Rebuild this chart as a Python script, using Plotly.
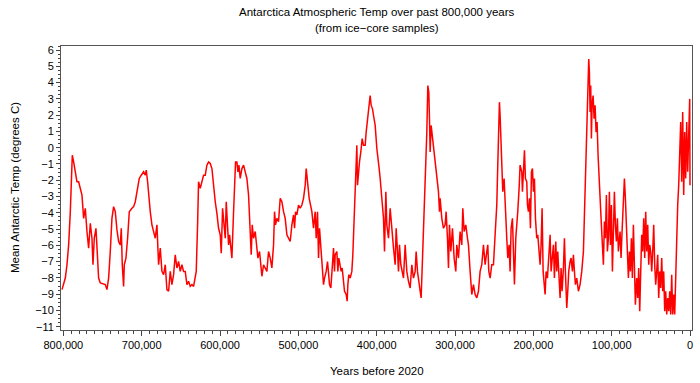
import plotly.graph_objects as go

years = [
801750, 799630, 797500, 795370, 793250, 791120, 789850, 788570, 786870, 784740,
782620, 780490, 778360, 776240, 774110, 771980, 769860, 767730, 765600, 763480,
762200, 760500, 758370, 757100, 754970, 752840, 748590, 746460, 744340, 742210,
740090, 737960, 735830, 733710, 731580, 729450, 727330, 726050, 724780, 723070,
722220, 720100, 717970, 715840, 712440, 710310, 708190, 705210, 703090, 700530,
697560, 695430, 694150, 692450, 690750, 689050, 686920, 684800, 682670, 680540,
679270, 678420, 676290, 674170, 672040, 669910, 667790, 665660, 663530, 661410,
659280, 657150, 655030, 652900, 650770, 648650, 646520, 644390, 642270, 640140,
638010, 635890, 633760, 631630, 630360, 628660, 627380, 625260, 623130, 621000,
618880, 616750, 614620, 612500, 610350, 608230, 606100, 603970, 601850, 599720,
598440, 596740, 595470, 593340, 592070, 590360, 589090, 587810, 586110, 584840,
582710, 581430, 580160, 578460, 577180, 575900, 574200, 572080, 569950, 567820,
565700, 563570, 561440, 560170, 558890, 557190, 555070, 552940, 551660, 549540,
547840, 546560, 544430, 542310, 540180, 538050, 535930, 533800, 531670, 530400,
529120, 527420, 525290, 523170, 521040, 518910, 516790, 514660, 512530, 510410,
508280, 506150, 504880, 503600, 501900, 499780, 497650, 495520, 493400, 491270,
490000, 488300, 486170, 482770, 480640, 478510, 477240, 475540, 474260, 472980,
470860, 469580, 467880, 466600, 464480, 462780, 461500, 460220, 458520, 457250,
455120, 453850, 452990, 450870, 449590, 448320, 446620, 445340, 444060, 442360,
441090, 438960, 437680, 436830, 435560, 433860, 431730, 430460, 428750, 427050,
425350, 424500, 423220, 421950, 420250, 418550, 416840, 414720, 413440, 411740,
410040, 408340, 407050, 405340, 404070, 401940, 399820, 398540, 396840, 395560,
393440, 391310, 390030, 388330, 387060, 384930, 382800, 380680, 378550, 376420,
375150, 373450, 372170, 370900, 369190, 367490, 365790, 363660, 361540, 359410,
357290, 355160, 353030, 350910, 349630, 347930, 346230, 344520, 343250, 341970,
340270, 339000, 337720, 336020, 334740, 333470, 332620, 331770, 330490, 328790,
327520, 325390, 323260, 321140, 319860, 319010, 316880, 314760, 312630, 311360,
309650, 308380, 307100, 305400, 303270, 301150, 299020, 297740, 295620, 293490,
291370, 290090, 288390, 286260, 284130, 282860, 280730, 278610, 276480, 274350,
272230, 270100, 267970, 265850, 263720, 261590, 259470, 258190, 256920, 255220,
253090, 250960, 248840, 246710, 245440, 244160, 243310, 242460, 240330, 239060,
237350, 235650, 233950, 232670, 230970, 229700, 228420, 226720, 225440, 224170,
222470, 221190, 219920, 218220, 216940, 214800, 213940, 212670, 211390, 210120,
208420, 207560, 206290, 205010, 203740, 202460, 201180, 199910, 198630, 197360,
195660, 194380, 192680, 191400, 190130, 188850, 187570, 186300, 185020, 183750,
182050, 179920, 178640, 177370, 175670, 174390, 173120, 171420, 170140, 168860,
167160, 165890, 164610, 163340, 161630, 160360, 159080, 157380, 156110, 154830,
153130, 151850, 150150, 148870, 147600, 146320, 144620, 142490, 140370, 138240,
136110, 134840, 133560, 132290, 130580, 129310, 128460, 127610, 126760, 125910,
125060, 123780, 122500, 121230, 119950, 118680, 117400, 116130, 114850, 113570,
112300, 110600, 109320, 108040, 106770, 105490, 104220, 102940, 101670, 100390,
99110, 97840, 96560, 95290, 94010, 92740, 91460, 89330, 88060, 86780,
85080, 83800, 82530, 81250, 79970, 78700, 77420, 76150, 74870, 73600,
72320, 71050, 69770, 68070, 66790, 65520, 64240, 62960, 61690, 60410,
59140, 57860, 56590, 55310, 54030, 52760, 51480, 50210, 48930, 47650,
46380, 45100, 43830, 42550, 41280, 40000, 38720, 37450, 36170, 34900,
33620, 32340, 31070, 29790, 28520, 27240, 25960, 24690, 23410, 22140,
20860, 19580, 18310, 17030, 15760, 14480, 13200, 11930, 10650, 9380,
8100, 6820, 5550, 4270, 3000, 1720, 440, 50,
]

temps = [
-8.72, -8.41, -8.01, -7.19, -5.97, -3.93, -2.50, -0.46, -0.87, -1.48,
-2.09, -2.09, -2.50, -2.91, -4.34, -3.72, -5.15, -6.17, -4.64, -5.56,
-7.19, -5.56, -4.95, -6.38, -8.01, -8.31, -8.41, -8.41, -8.72, -8.01,
-6.38, -4.34, -3.62, -3.93, -5.05, -5.76, -5.97, -4.95, -7.19, -8.52,
-7.19, -6.78, -5.56, -3.93, -3.72, -3.62, -3.32, -2.60, -1.89, -1.69,
-1.48, -1.69, -1.38, -2.09, -3.11, -3.93, -4.74, -5.15, -5.56, -4.74,
-5.97, -7.19, -6.17, -7.60, -7.80, -7.19, -8.72, -8.82, -7.60, -8.41,
-7.80, -6.58, -7.39, -6.99, -7.60, -7.19, -7.60, -7.60, -8.41, -8.21,
-8.52, -8.41, -8.52, -8.01, -7.60, -4.74, -2.09, -2.50, -2.09, -1.69,
-1.69, -1.07, -0.87, -0.97, -1.28, -2.50, -3.32, -4.03, -4.95, -5.35,
-6.48, -3.72, -4.34, -5.56, -3.32, -5.15, -5.97, -5.35, -6.38, -6.78,
-3.93, -1.89, -0.87, -0.87, -1.48, -1.07, -1.89, -1.28, -1.07, -1.48,
-1.89, -2.91, -4.74, -6.58, -4.74, -5.56, -5.15, -5.97, -6.78, -6.38,
-7.19, -7.90, -7.19, -7.39, -7.60, -6.38, -6.78, -7.39, -5.97, -3.93,
-4.74, -4.34, -4.54, -3.11, -3.32, -3.93, -4.34, -5.35, -5.56, -5.76,
-4.74, -4.13, -4.95, -3.93, -4.13, -3.52, -3.72, -3.52, -3.11, -2.30,
-1.28, -2.30, -3.11, -3.93, -4.95, -3.93, -5.56, -3.93, -6.78, -4.95,
-6.38, -7.60, -8.41, -8.01, -7.60, -6.99, -7.60, -8.41, -8.62, -7.60,
-6.17, -7.60, -6.58, -6.38, -7.60, -6.78, -7.19, -7.60, -7.39, -8.01,
-8.82, -9.02, -9.43, -8.41, -7.80, -8.01, -7.60, -6.58, -3.93, -1.89,
0.15, -2.30, -1.48, -0.87, -0.26, 0.56, 0.15, 0.15, 0.96, 1.78,
2.19, 3.21, 2.60, 2.39, 1.98, 1.37, -0.05, -0.46, -1.28, -1.89,
-2.91, -4.34, -6.38, -2.70, -4.74, -5.56, -3.72, -5.15, -6.17, -7.19,
-4.95, -6.38, -7.60, -5.97, -7.19, -7.60, -8.01, -5.97, -7.60, -8.21,
-8.62, -7.19, -8.01, -7.60, -6.38, -7.60, -8.41, -8.82, -9.23, -7.60,
-5.56, -3.52, -1.48, 0.96, 3.82, 3.41, 1.78, -0.26, 1.37, 0.56,
-0.05, -1.07, -1.69, -2.70, -3.93, -3.11, -4.34, -4.95, -4.74, -3.93,
-5.56, -7.39, -4.74, -6.38, -4.95, -6.78, -7.60, -5.97, -6.78, -5.15,
-5.97, -3.72, -5.15, -4.74, -5.56, -5.97, -7.60, -9.02, -8.41, -9.02,
-9.23, -8.82, -7.60, -7.19, -5.97, -7.19, -6.38, -5.97, -7.60, -8.01,
-7.19, -7.19, -5.35, -3.52, -1.07, 1.37, 2.80, 1.98, -1.48, -2.70,
-1.89, -4.34, -5.56, -6.78, -5.97, -7.60, -4.95, -4.34, -6.58, -8.41,
-5.56, -4.34, -3.93, -2.50, -1.07, -1.48, -2.70, -1.48, -0.16, -1.89,
-2.09, -3.52, -3.93, -3.11, -4.95, -1.48, -1.28, -2.70, -1.89, -4.34,
-5.56, -5.35, -6.58, -7.19, -5.97, -3.72, -7.60, -8.41, -9.02, -7.60,
-8.01, -6.38, -5.35, -7.60, -6.38, -5.97, -8.01, -5.76, -7.60, -6.38,
-8.01, -9.23, -7.39, -8.82, -7.39, -5.56, -7.60, -9.84, -8.82, -7.60,
-6.99, -6.78, -7.60, -6.58, -7.60, -8.41, -8.01, -8.82, -8.41, -7.60,
-6.38, -4.34, -1.89, 0.56, 3.00, 5.45, 4.63, 2.19, 3.82, 0.56,
2.60, 3.21, 1.78, 2.60, 0.96, 1.58, -0.46, -2.09, -2.91, -4.34,
-5.56, -7.19, -4.54, -5.56, -2.91, -6.38, -5.56, -2.70, -5.97, -3.52,
-7.60, -4.13, -2.70, -4.74, -5.76, -4.34, -6.38, -5.15, -6.78, -5.15,
-2.70, -1.89, -3.11, -4.74, -6.38, -8.01, -6.38, -7.60, -5.56, -8.01,
-4.74, -6.58, -9.64, -8.01, -9.23, -7.39, -10.04, -7.60, -5.35, -6.38,
-4.34, -6.78, -3.93, -6.38, -4.74, -7.19, -5.97, -6.38, -7.60, -6.38,
-4.74, -7.19, -8.41, -7.60, -6.58, -9.23, -7.60, -8.62, -6.78, -8.82,
-7.60, -10.04, -8.82, -10.25, -9.23, -10.04, -8.82, -10.25, -7.80, -10.25,
-9.02, -10.25, -7.60, -5.97, -3.52, -2.30, -0.87, 1.58, -2.09, 2.19,
-2.91, 0.96, -1.89, 1.58, -1.48, 1.78, 3.00, -2.30,
]

x_ticks = [800000, 700000, 600000, 500000, 400000, 300000, 200000, 100000, 0]
y_ticks = list(range(-11, 7))
title_lines = ["Antarctica Atmospheric Temp over past 800,000 years",
               "(from ice\u2212core samples)"]
x_title = "Years before 2020"
y_title = "Mean Antarctic Temp (degrees C)"

fig = go.Figure(go.Scatter(
    x=years, y=temps, mode="lines",
    line=dict(color="#ff0000", width=1.5),
    showlegend=False, hoverinfo="skip",
))

font = "Liberation Sans, Arial, sans-serif"
L, R, T, B = 61, 8, 46, 53
plot_w = 700 - L - R
plot_h = 383 - T - B
fig.update_layout(
    width=700, height=383,
    margin=dict(l=L, r=R, t=T, b=B, autoexpand=False),
    paper_bgcolor="white", plot_bgcolor="white",
    font=dict(family=font, size=11, color="#000"),
)
for i, line in enumerate(title_lines):
    py = 12 + 16 * i  # pixel centre from top
    fig.add_annotation(
        text=line, xref="paper", yref="paper",
        x=0.5, y=1 + (T - py) / plot_h, xanchor="center", yanchor="middle",
        showarrow=False, font=dict(family=font, size=11.5, color="#000"),
    )
fig.add_annotation(
    text=x_title, xref="paper", yref="paper",
    x=0.5, y=1 - (371 - T) / plot_h, xanchor="center", yanchor="middle",
    showarrow=False, font=dict(family=font, size=11.5, color="#000"),
)
fig.add_annotation(
    text=y_title, xref="paper", yref="paper", textangle=-90,
    x=(15 - L) / plot_w, y=0.5, xanchor="center", yanchor="middle",
    showarrow=False, font=dict(family=font, size=11.5, color="#000"),
)
fig.update_xaxes(
    range=[803000, -2500], automargin=False,
    tickvals=x_ticks, tickformat=",",
    ticks="outside", ticklen=5, tickcolor="#444", tickwidth=1,
    minor=dict(dtick=10000, tick0=0, ticks="outside", ticklen=3, tickcolor="#444"),
    showline=True, linecolor="#555", linewidth=1, mirror=True,
    showgrid=False, zeroline=False,
    tickfont=dict(size=11),
)
fig.update_yaxes(
    range=[-11.2, 6.25], automargin=False,
    tickvals=y_ticks,
    ticks="outside", ticklen=4, tickcolor="#444", tickwidth=1,
    minor=dict(dtick=0.25, tick0=0, ticks="outside", ticklen=2, tickcolor="#444"),
    showline=True, linecolor="#555", linewidth=1, mirror=True,
    showgrid=False, zeroline=False,
    tickfont=dict(size=11),
)

fig.write_html(
    "out.html",
    config={"displayModeBar": False, "staticPlot": True},
    post_script="document.body.style.margin='0';document.body.style.overflow='hidden';",
)
